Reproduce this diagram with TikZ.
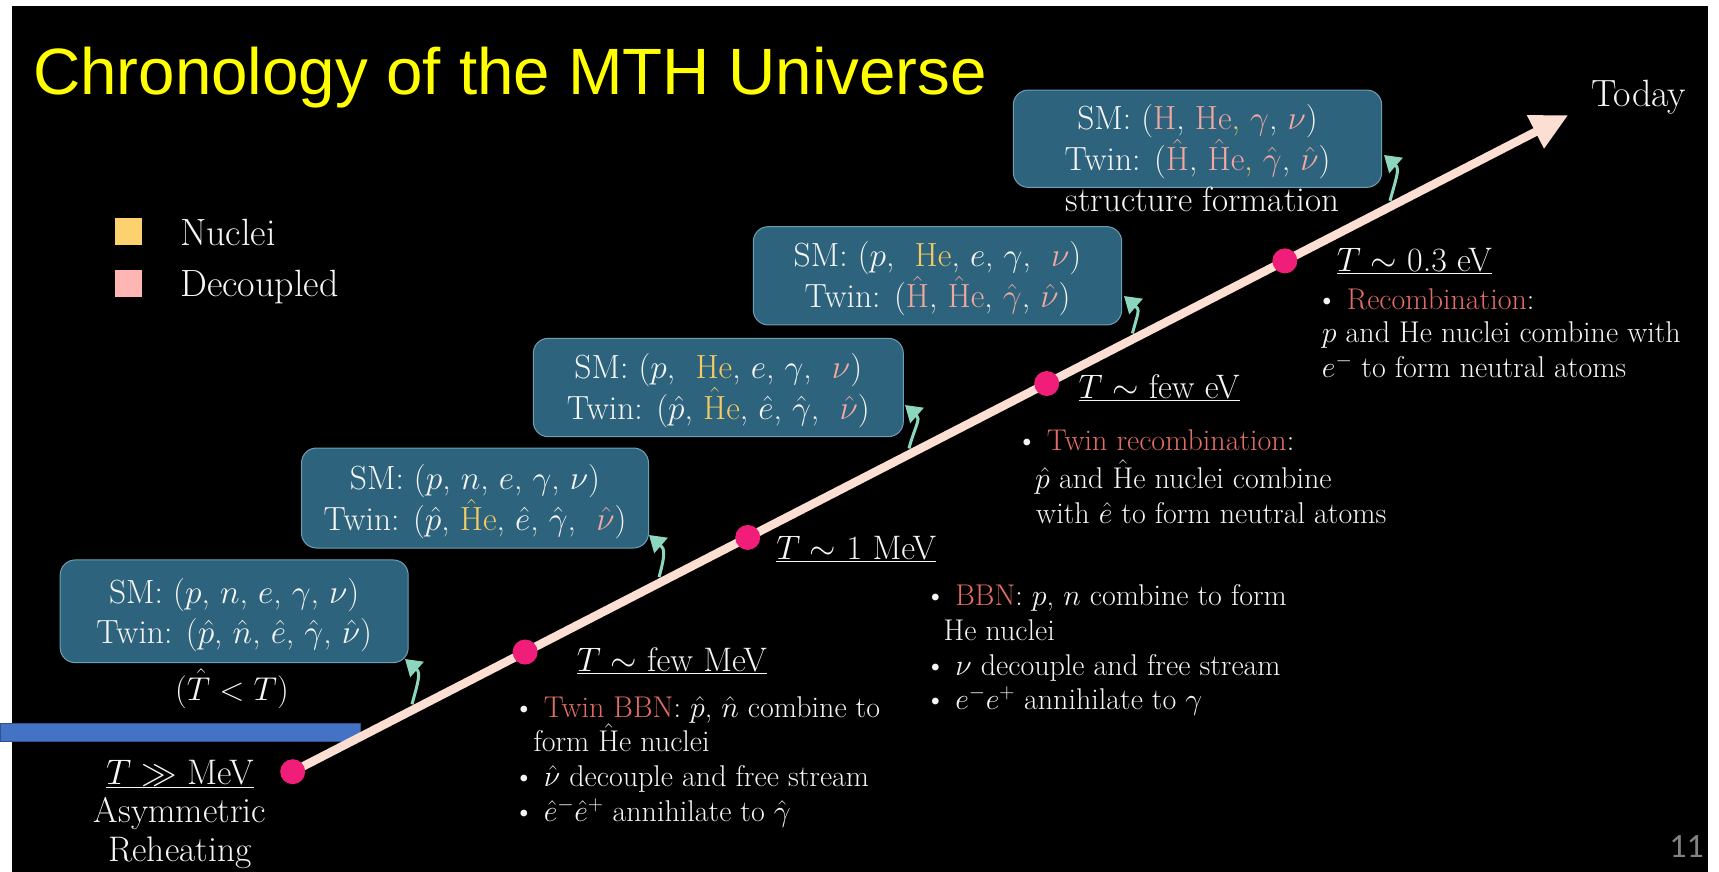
\RequirePackage{fix-cm}
\documentclass[tikz,border=0pt]{standalone}
\usepackage{fontspec}
\newfontfamily\titlefont{Liberation Sans}
\newfontfamily\pagenumfont{Carlito}
\usetikzlibrary{arrows.meta,calc}
\definecolor{boxfill}{RGB}{45,99,124}
\definecolor{boxline}{RGB}{110,160,180}
\definecolor{nuc}{RGB}{244,204,98}
\definecolor{nucsq}{RGB}{253,210,110}
\definecolor{dec}{RGB}{240,168,160}
\definecolor{decsq}{RGB}{255,182,178}
\definecolor{hl}{RGB}{226,108,102}
\definecolor{tline}{RGB}{252,222,210}
\definecolor{dotc}{RGB}{240,30,120}
\definecolor{mint}{RGB}{140,214,192}
\definecolor{ttl}{RGB}{255,255,0}
\definecolor{bar}{RGB}{68,114,196}
\definecolor{barline}{RGB}{47,82,143}
\definecolor{txt}{RGB}{245,245,245}
\definecolor{pgnum}{RGB}{130,130,130}
\newcommand{\nucl}[1]{\textcolor{nuc}{#1}}
\newcommand{\decp}[1]{\textcolor{dec}{#1}}
\newcommand{\hilite}[1]{\textcolor{hl}{#1}}
\newcommand{\hH}{$\hat{\mathrm{H}}$}
\newcommand{\boxfont}{\fontsize{33.5}{40}\selectfont}
\newcommand{\labfont}{\fontsize{34}{38}\selectfont}
\newcommand{\bulfont}{\fontsize{30}{34}\selectfont}
\begin{document}
\begin{tikzpicture}[x=1pt,y=-1pt,
  partbox/.style={draw=boxline, line width=1pt, fill=boxfill, rounded corners=15pt, inner sep=0pt},
  boxtext/.style={text=txt, align=center, inner sep=0pt, font=\boxfont},
  lab/.style={text=txt, inner sep=0pt, font=\labfont},
  bul/.style={text=txt, inner sep=0pt, font=\bulfont, anchor=base west},
  dotnode/.style={circle, fill=dotc, minimum size=25pt, inner sep=0pt},
  legsq/.style={rectangle, minimum size=27pt, inner sep=0pt},
  mintarrow/.style={mint, line width=3pt, -{Triangle[length=16pt,width=20pt]}}
]
\useasboundingbox (0,0) rectangle (1719,872);
\fill[white] (0,0) rectangle (1719,872);
\fill[black] (12,6) rectangle (1708,872);

% title
\node[anchor=base west, text=ttl, inner sep=0pt, font=\titlefont\fontsize{65.5}{70}\selectfont] (title) at (33,95) {Chronology of the MTH Universe};

% legend
\node[legsq, fill=nucsq] (sqnuc) at (128.9,231.3) {};
\node[legsq, fill=decsq] (sqdec) at (128.9,283.1) {};
\node[lab, anchor=base west, font=\fontsize{38}{40}\selectfont] (lnuc) at (180,245) {Nuclei};
\node[lab, anchor=base west, font=\fontsize{38}{40}\selectfont] (ldec) at (180,296) {Decoupled};

% blue bar
\node[rectangle, fill=bar, draw=barline, line width=1pt, minimum width=360pt, minimum height=18pt, inner sep=0pt, anchor=north west] (bluebar) at (0,722.5) {};

% timeline
\coordinate (T0) at (292.7,771.7);
\coordinate (T1) at (1568.3,115);
\draw[tline, line width=8.5pt, -{Triangle[length=37pt,width=35pt]}] (T0) -- (T1);
\node[lab, anchor=base west, font=\fontsize{38}{40}\selectfont] (today) at (1591,106.7) {Today};

% boxes
\node[partbox, minimum width=348pt, minimum height=102.7pt] (b1) at (234.2,611.3) {};
\node[boxtext] (b1t) at ($(b1.center)+(0,4)$)
  {SM: ($p$, $n$, $e$, $\gamma$, $\nu$)\\Twin: ($\hat p$, $\hat n$, $\hat e$, $\hat\gamma$, $\hat\nu$)};
\node[partbox, minimum width=347pt, minimum height=100pt] (b2) at (475,498) {};
\node[boxtext] (b2t) at ($(b2.center)+(0,4)$)
  {SM: ($p$, $n$, $e$, $\gamma$, $\nu$)\\Twin: ($\hat p$, \nucl{\hH e}, $\hat e$, $\hat\gamma$, \ \decp{$\hat\nu$})};
\node[partbox, minimum width=370pt, minimum height=98.4pt] (b3) at (718.3,387.5) {};
\node[boxtext] (b3t) at ($(b3.center)+(0,3)$)
  {SM: ($p$, \ \nucl{He}, $e$, $\gamma$, \ \decp{$\nu$})\\Twin: ($\hat p$, \nucl{\hH e}, $\hat e$, $\hat\gamma$, \ \decp{$\hat\nu$})};
\node[partbox, minimum width=368.4pt, minimum height=98.3pt] (b4) at (937.5,275.8) {};
\node[boxtext] (b4t) at ($(b4.center)+(0,3)$)
  {SM: ($p$, \ \nucl{He}, $e$, $\gamma$, \ \decp{$\nu$})\\Twin: (\decp{\hH}, \decp{\hH e}, \decp{$\hat\gamma$}, \decp{$\hat\nu$})};
\node[partbox, minimum width=368.4pt, minimum height=97.3pt] (b5) at (1197.5,138.7) {};
\node[boxtext] (b5t) at ($(b5.center)+(0,3)$)
  {SM: (\decp{H}, \decp{He}\nucl{,} \decp{$\gamma$}, \decp{$\nu$})\\Twin: (\decp{\hH}, \decp{\hH e}\nucl{,} \decp{$\hat\gamma$}, \decp{$\hat\nu$})};

\node[lab, anchor=base, font=\fontsize{33}{38}\selectfont] (tlt) at (232,700) {($\hat T<T$)};
\node[lab, anchor=base, font=\fontsize{35}{38}\selectfont] (sform) at (1202.5,211.7) {structure formation};

% curved arrows
\coordinate (a1) at ($(T0)!0.0935!(T1)+(0,-6)$);
\coordinate (a2) at ($(T0)!0.2872!(T1)+(0,-6)$);
\coordinate (a3) at ($(T0)!0.4831!(T1)+(0,-6)$);
\coordinate (a4) at ($(T0)!0.6583!(T1)+(0,-6)$);
\coordinate (a5) at ($(T0)!0.8602!(T1)+(0,-6)$);
\coordinate (h1) at (405,659);
\coordinate (h2) at (649,535);
\coordinate (h3) at (905,405);
\coordinate (h4) at (1124,296);
\coordinate (h5) at (1384,155);
\foreach \i in {1,...,5}{\draw[mintarrow] (a\i) .. controls ($(a\i)+(6,-22)$) and ($(h\i)+(16,14)$) .. (h\i);}

% dots
\node[dotnode] (d0) at (T0) {};
\node[dotnode] (d1) at ($(T0)!0.1822!(T1)$) {};
\node[dotnode] (d2) at ($(T0)!0.3567!(T1)$) {};
\node[dotnode] (d3) at ($(T0)!0.5911!(T1)$) {};
\node[dotnode] (d4) at ($(T0)!0.7778!(T1)$) {};

% reheating
\node[lab, anchor=base, font=\fontsize{35.5}{38}\selectfont] (treh) at (180,784) {\underline{$T\gg$ MeV}};
\node[lab, anchor=base, font=\fontsize{35.5}{38}\selectfont] (asym) at (180,822) {Asymmetric};
\node[lab, anchor=base, font=\fontsize{35.5}{38}\selectfont] (rehe) at (180,861) {Reheating};

% few MeV
\node[lab, anchor=base west] (tfm) at (576.7,671.7) {\underline{$T\sim$ few MeV}};
\node[bul] (fm1) at (513,717.3) {\textbullet\ \hilite{Twin BBN}: $\hat p$, $\hat n$ combine to};
\node[bul] (fm2) at (533.3,751.7) {form \hH e nuclei};
\node[bul] (fm3) at (513,786.7) {\textbullet\ $\hat\nu$ decouple and free stream};
\node[bul] (fm4) at (513,821.7) {\textbullet\ $\hat e^-\hat e^+$ annihilate to $\hat\gamma$};

% 1 MeV
\node[lab, anchor=base west] (tom) at (776.2,559) {\underline{$T\sim$ 1 MeV}};
\node[bul] (om1) at (924.5,605) {\textbullet\ \hilite{BBN}: $p$, $n$ combine to form};
\node[bul] (om2) at (943.3,640) {He nuclei};
\node[bul] (om3) at (924.5,675) {\textbullet\ $\nu$ decouple and free stream};
\node[bul] (om4) at (924.5,709.5) {\textbullet\ $e^-e^+$ annihilate to $\gamma$};

% few eV
\node[lab, anchor=base west] (tfe) at (1078.3,398.3) {\underline{$T\sim$ few eV}};
\node[bul] (fe1) at (1016,450) {\textbullet\ \hilite{Twin recombination}:};
\node[bul] (fe2) at (1035,488.3) {$\hat p$ and \hH e nuclei combine};
\node[bul] (fe3) at (1036,523) {with $\hat e$ to form neutral atoms};

% 0.3 eV
\node[lab, anchor=base west] (tze) at (1336.7,271.7) {\underline{$T\sim$ 0.3 eV}};
\node[bul] (ze1) at (1316,309) {\textbullet\ \hilite{Recombination}:};
\node[bul] (ze2) at (1321.7,342.5) {$p$ and He nuclei combine with};
\node[bul] (ze3) at (1321.7,377) {$e^-$ to form neutral atoms};

% page number
\node[anchor=base, text=pgnum, inner sep=0pt, font=\pagenumfont\fontsize{34}{36}\selectfont] (pnum) at (1686.5,857) {11};
\end{tikzpicture}
\end{document}
